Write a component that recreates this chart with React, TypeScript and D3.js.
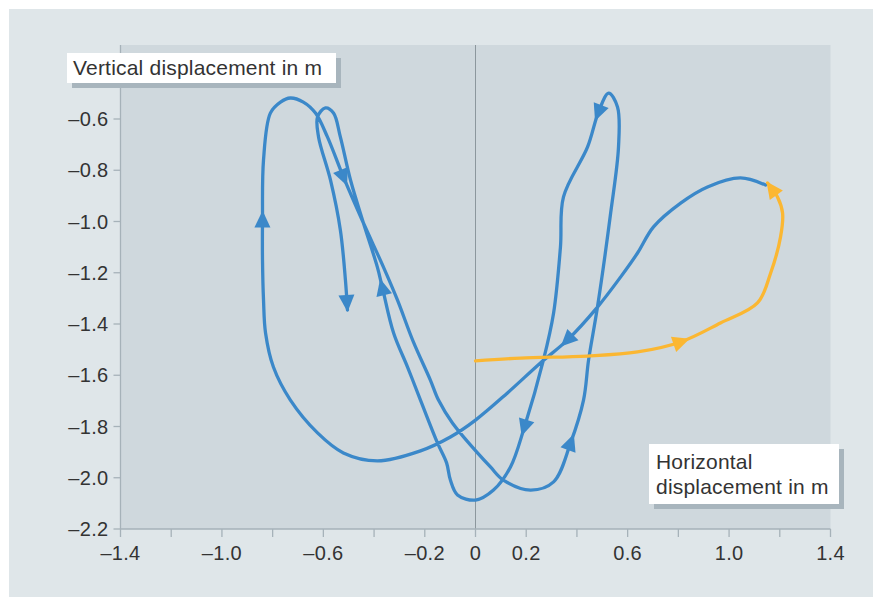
import React from "react";
import * as d3 from "d3";

// ---- data (metres) ----
const blueX = [1.144, 1.045, 0.915, 0.809, 0.702, 0.639, 0.572, 0.481, 0.363, 0.256, 0.126, 0.0, -0.099, -0.217, -0.387, -0.521, -0.623, -0.73, -0.797, -0.828, -0.836, -0.84, -0.84, -0.836, -0.809, -0.769, -0.73, -0.679, -0.631, -0.584, -0.521, -0.442, -0.363, -0.308, -0.245, -0.178, -0.146, -0.091, 0.059, 0.11, 0.217, 0.308, 0.375, 0.426, 0.446, 0.481, 0.533, 0.564, 0.56, 0.525, 0.485, 0.442, 0.347, 0.335, 0.308, 0.268, 0.193, 0.138, 0.071, 0.0, -0.071, -0.099, -0.114, -0.15, -0.217, -0.268, -0.323, -0.367, -0.387, -0.442, -0.493, -0.533, -0.56, -0.592, -0.623, -0.619, -0.572, -0.533, -0.513, -0.505];
const blueY = [-0.858, -0.83, -0.865, -0.928, -1.021, -1.123, -1.217, -1.334, -1.462, -1.552, -1.669, -1.775, -1.841, -1.895, -1.934, -1.903, -1.825, -1.697, -1.568, -1.435, -1.306, -1.15, -0.994, -0.76, -0.577, -0.534, -0.518, -0.534, -0.577, -0.67, -0.826, -1.006, -1.178, -1.306, -1.47, -1.619, -1.697, -1.786, -1.958, -2.009, -2.048, -2.016, -1.864, -1.697, -1.54, -1.334, -0.967, -0.709, -0.553, -0.499, -0.573, -0.709, -0.904, -1.1, -1.357, -1.54, -1.802, -1.958, -2.048, -2.087, -2.067, -2.009, -1.942, -1.864, -1.697, -1.568, -1.435, -1.259, -1.178, -1.006, -0.838, -0.67, -0.577, -0.557, -0.592, -0.67, -0.838, -1.033, -1.228, -1.345];
const blueArrowIdx = [8, 22, 30, 42, 50, 56, 67];

const orangeX = [0.0, 0.178, 0.442, 0.639, 0.809, 0.966, 1.112, 1.164, 1.203, 1.211, 1.191, 1.152];
const orangeY = [-1.544, -1.533, -1.525, -1.509, -1.47, -1.396, -1.318, -1.201, -1.06, -0.967, -0.904, -0.85];
const orangeArrowIdx = [4];

const xTicks = [-1.4, -1.2, -1.0, -0.8, -0.6, -0.4, -0.2, 0, 0.2, 0.4, 0.6, 0.8, 1.0, 1.2, 1.4];
const xTickLabels = ["–1.4", "", "–1.0", "", "–0.6", "", "–0.2", "0", "0.2", "", "0.6", "", "1.0", "", "1.4"];
const yTicks = [-2.2, -2.0, -1.8, -1.6, -1.4, -1.2, -1.0, -0.8, -0.6];
const yTickLabels = ["–2.2", "–2.0", "–1.8", "–1.6", "–1.4", "–1.2", "–1.0", "–0.8", "–0.6"];

const yTitle = "Vertical displacement in m";
const xTitle = ["Horizontal", "displacement in m"];

const W = 873;
const H = 599;
const BLUE = "#3b88c9";
const ORANGE = "#fbb732";
const FONT = "'Liberation Sans', Arial, Helvetica, sans-serif";

export default function App() {
  const x = d3.scaleLinear().domain([-1.4, 1.4]).range([120.5, 830.5]);
  const y = d3.scaleLinear().domain([-2.2, -0.6]).range([529, 119]);
  const plotTop = 45;

  const toPts = (xs: number[], ys: number[]) => xs.map((v, i) => [x(v), y(ys[i])] as [number, number]);
  const line = d3.line<[number, number]>().curve(d3.curveCatmullRom.alpha(0.5));

  const bluePts = toPts(blueX, blueY);
  const orangePts = toPts(orangeX, orangeY);

  const tri = (tip: number[], bc: number[], dx: number, dy: number, hw: number) =>
    `M${tip[0]},${tip[1]}L${bc[0] - dy * hw},${bc[1] + dx * hw}L${bc[0] + dy * hw},${bc[1] - dx * hw}Z`;

  const midArrow = (pts: [number, number][], i: number) => {
    const a = pts[i - 1], b = pts[i + 1], c = pts[i];
    let dx = b[0] - a[0], dy = b[1] - a[1];
    const l = Math.hypot(dx, dy) || 1;
    dx /= l; dy /= l;
    const tip = [c[0] + dx * 9.5, c[1] + dy * 9.5];
    const bc = [c[0] - dx * 7.5, c[1] - dy * 7.5];
    return tri(tip, bc, dx, dy, 8);
  };
  const endArrow = (pts: [number, number][]) => {
    const n = pts.length;
    const a = pts[n - 2], c = pts[n - 1];
    let dx = c[0] - a[0], dy = c[1] - a[1];
    const l = Math.hypot(dx, dy) || 1;
    dx /= l; dy /= l;
    const tip = [c[0] + dx * 2, c[1] + dy * 2];
    const bc = [tip[0] - dx * 17, tip[1] - dy * 17];
    return tri(tip, bc, dx, dy, 8);
  };

  return (
    <svg width={W} height={H} style={{ position: "absolute", left: 0, top: 0, fontFamily: FONT }}>
      <rect x={0} y={0} width={W} height={H} fill="#ffffff" />
      <rect x={9} y={9} width={W - 9} height={588} fill="#dfe6e9" />
      <rect x={x(-1.4)} y={plotTop} width={x(1.4) - x(-1.4)} height={y(-2.2) - plotTop} fill="#cfd8dd" />

      {/* zero line */}
      <line x1={x(0)} x2={x(0)} y1={plotTop} y2={y(-2.2) + 8} stroke="#8c979d" strokeWidth={1} />

      {/* y axis */}
      <line x1={x(-1.4)} x2={x(-1.4)} y1={plotTop} y2={y(-2.2)} stroke="#a6b2b9" strokeWidth={1.3} />
      {yTicks.map((t, i) => (
        <g key={"y" + i}>
          <line x1={x(-1.4) - 7} x2={x(-1.4)} y1={y(t)} y2={y(t)} stroke="#a6b2b9" strokeWidth={1.3} />
          <text x={x(-1.4) - 12} y={y(t)} dy="0.35em" textAnchor="end" fontSize={20} letterSpacing={0.3} fill="#333">
            {yTickLabels[i]}
          </text>
        </g>
      ))}

      {/* x axis */}
      <line x1={x(-1.4)} x2={x(1.4)} y1={y(-2.2)} y2={y(-2.2)} stroke="#a6b2b9" strokeWidth={1.3} />
      {xTicks.map((t, i) => (
        <g key={"x" + i}>
          <line x1={x(t)} x2={x(t)} y1={y(-2.2)} y2={y(-2.2) + 8} stroke="#a6b2b9" strokeWidth={1.3} />
          {xTickLabels[i] && (
            <text x={x(t)} y={y(-2.2) + 31} textAnchor="middle" fontSize={20} letterSpacing={0.3} fill="#333">
              {xTickLabels[i]}
            </text>
          )}
        </g>
      ))}

      {/* series */}
      <path d={line(bluePts) || ""} fill="none" stroke={BLUE} strokeWidth={3.3} strokeLinejoin="round" strokeLinecap="round" />
      {blueArrowIdx.map((i) => (
        <path key={"ba" + i} d={midArrow(bluePts, i)} fill={BLUE} />
      ))}
      <path d={endArrow(bluePts)} fill={BLUE} />

      <path d={line(orangePts) || ""} fill="none" stroke={ORANGE} strokeWidth={3.3} strokeLinejoin="round" strokeLinecap="round" />
      {orangeArrowIdx.map((i) => (
        <path key={"oa" + i} d={midArrow(orangePts, i)} fill={ORANGE} />
      ))}
      <path d={endArrow(orangePts)} fill={ORANGE} />

      {/* y title */}
      <rect x={72} y={58} width={269} height={30} fill="#a8b5bd" />
      <rect x={67} y={53} width={269} height={30} fill="#ffffff" />
      <text x={73} y={75} fontSize={21} letterSpacing={0.2} fill="#333">{yTitle}</text>

      {/* x title */}
      <rect x={654} y={449} width={190} height={60} fill="#a8b5bd" />
      <rect x={649} y={444} width={190} height={60} fill="#ffffff" />
      <text x={656} y={469} fontSize={21} letterSpacing={0.2} fill="#333">{xTitle[0]}</text>
      <text x={656} y={494} fontSize={21} letterSpacing={0.2} fill="#333">{xTitle[1]}</text>
    </svg>
  );
}
